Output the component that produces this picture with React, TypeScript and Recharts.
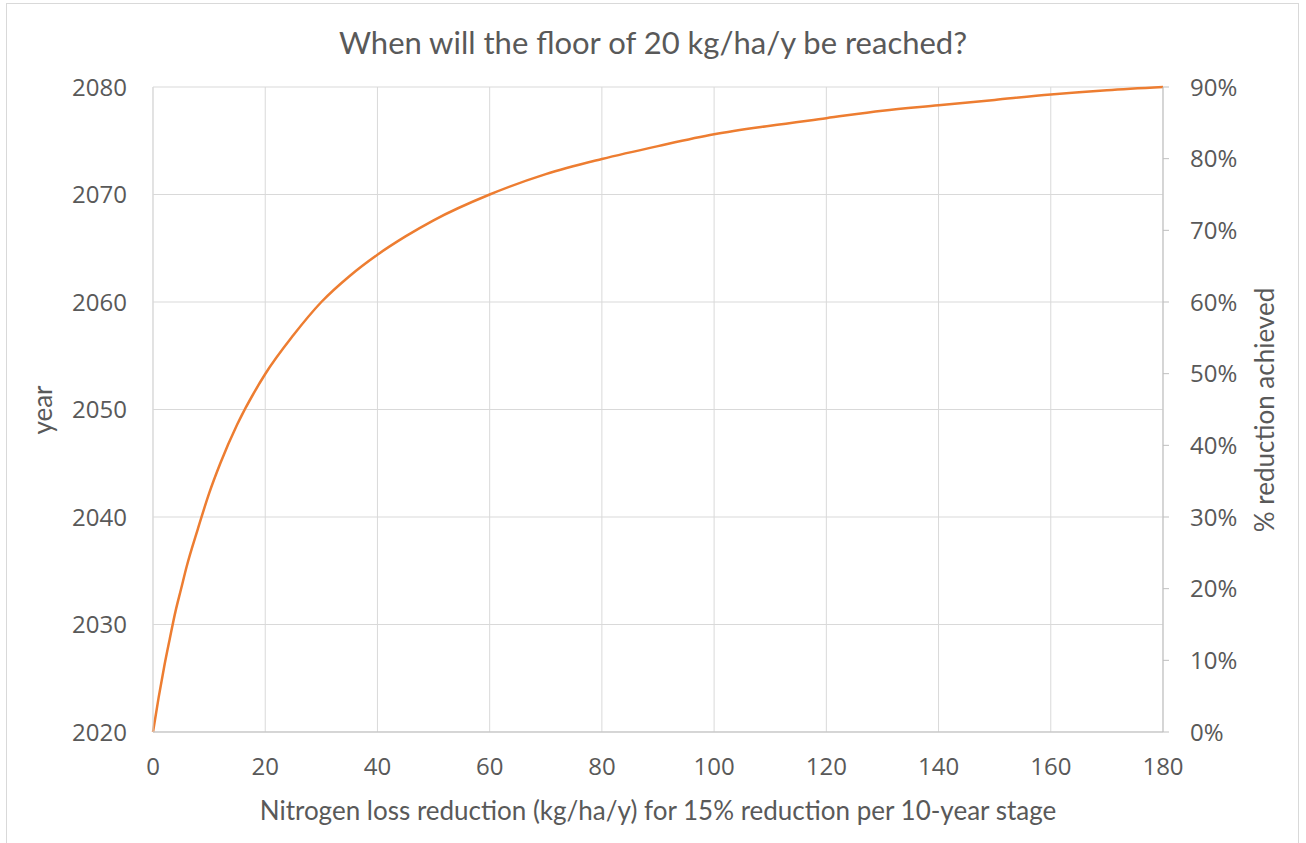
import * as React from "react";
import { LineChart, Line, XAxis, YAxis, CartesianGrid } from "recharts";

// nitrogen loss reduction (kg/ha/y) and the year the floor is reached
const reduction = [0, 1, 2, 3, 4, 5, 6, 8, 10, 12, 15, 20, 25, 30, 35, 40, 45, 50, 60, 70, 80, 90, 100, 110, 120, 130, 140, 150, 160, 170, 180];
const year = [
  2020, 2023.2, 2026.1, 2028.7, 2031.2, 2033.3, 2035.4, 2038.9, 2042.2, 2045.0, 2048.6,
  2053.3, 2056.9, 2060.0, 2062.4, 2064.4, 2066.1, 2067.6, 2070.0, 2071.9, 2073.3, 2074.5,
  2075.6, 2076.4, 2077.1, 2077.8, 2078.3, 2078.8, 2079.3, 2079.7, 2080.0,
];

const xTicks = [0, 20, 40, 60, 80, 100, 120, 140, 160, 180];
const yearTicks = [2020, 2030, 2040, 2050, 2060, 2070, 2080];
const pctTicks = [0, 0.1, 0.2, 0.3, 0.4, 0.5, 0.6, 0.7, 0.8, 0.9];

const data = reduction.map((x, i) => ({ x, year: year[i] }));

const TEXT = "#595959";
const GRID = "#d9d9d9";
const AXIS = "#bfbfbf";
const FONT = "'Open Sans', sans-serif";
const TITLE_FONT = "Lato, sans-serif";
const tick = { fill: TEXT, fontSize: 24, fontFamily: FONT };

export default function App() {
  return (
    <div style={{ position: "absolute", left: 0, top: 0, width: 1306, height: 843, background: "white", overflow: "hidden" }}>
      <div style={{ position: "absolute", left: 6, top: 3, width: 1293, height: 850, border: `1px solid ${GRID}`, boxSizing: "border-box" }} />
      <LineChart width={1306} height={843} data={data} margin={{ top: 87, right: 0, bottom: 0, left: 0 }}>
        <CartesianGrid yAxisId="left" stroke={GRID} strokeWidth={1} />
        <XAxis
          dataKey="x"
          type="number"
          domain={[0, 180]}
          ticks={xTicks}
          height={111}
          tick={tick}
          tickLine={false}
          tickSize={6}
          tickMargin={20}
          axisLine={{ stroke: AXIS }}
        />
        <YAxis
          yAxisId="left"
          domain={[2020, 2080]}
          ticks={yearTicks}
          width={153}
          tick={tick}
          tickLine={false}
          tickSize={6}
          tickMargin={20}
          axisLine={{ stroke: GRID }}
        />
        <YAxis
          yAxisId="right"
          orientation="right"
          type="number"
          domain={[0, 0.9]}
          allowDataOverflow
          ticks={pctTicks}
          width={143}
          tick={tick}
          tickFormatter={(v: number) => `${Math.round(v * 100)}%`}
          tickLine={{ stroke: AXIS }}
          tickSize={6}
          tickMargin={21}
          axisLine={{ stroke: AXIS }}
        />
        <Line
          yAxisId="right"
          dataKey="year"
          stroke="none"
          dot={false}
          legendType="none"
          isAnimationActive={false}
        />
        <Line
          yAxisId="left"
          type="monotone"
          dataKey="year"
          stroke="#ED7D31"
          strokeWidth={2.5}
          dot={false}
          isAnimationActive={false}
        />
      </LineChart>
      <div style={{ position: "absolute", left: 0, width: 1306, top: 20, textAlign: "center", color: TEXT, fontFamily: TITLE_FONT, fontSize: 31, lineHeight: "44px" }}>
        When will the floor of 20 kg/ha/y be reached?
      </div>
      <div style={{ position: "absolute", left: 0, width: 1316, top: 792, textAlign: "center", color: TEXT, fontFamily: TITLE_FONT, fontSize: 26, lineHeight: "36px" }}>
        Nitrogen loss reduction (kg/ha/y) for 15% reduction per 10-year stage
      </div>
      <div style={{ position: "absolute", left: 42, top: 410, transform: "translate(-50%, -50%) rotate(-90deg)", color: TEXT, fontFamily: TITLE_FONT, fontSize: 26, whiteSpace: "nowrap" }}>
        year
      </div>
      <div style={{ position: "absolute", left: 1264, top: 410, transform: "translate(-50%, -50%) rotate(-90deg)", color: TEXT, fontFamily: TITLE_FONT, fontSize: 26, whiteSpace: "nowrap" }}>
        % reduction achieved
      </div>
    </div>
  );
}
